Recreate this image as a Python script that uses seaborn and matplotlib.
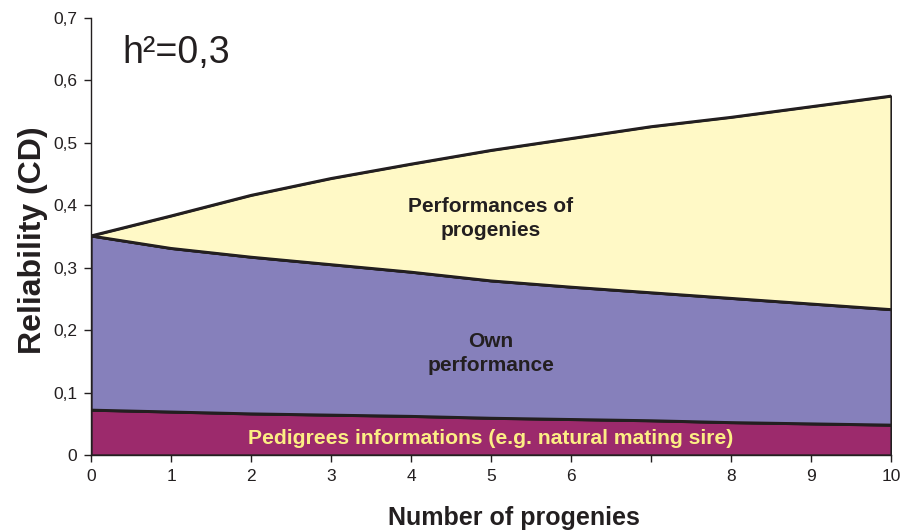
import matplotlib
matplotlib.use("Agg")
import matplotlib.pyplot as plt
import seaborn as sns
import pandas as pd

# ---- data ----
progenies = [0, 1, 2, 3, 4, 5, 6, 7, 8, 9, 10]
pedigree = [0.072, 0.069, 0.066, 0.064, 0.062, 0.059, 0.057, 0.055, 0.052, 0.050, 0.048]
own_perf = [0.279, 0.262, 0.251, 0.241, 0.231, 0.220, 0.212, 0.205, 0.199, 0.192, 0.185]
progeny_perf = [0.000, 0.052, 0.099, 0.138, 0.173, 0.209, 0.238, 0.266, 0.290, 0.316, 0.342]
x_tick_labels = ["0", "1", "2", "3", "4", "5", "6", "", "8", "9", "10"]
y_ticks = [0, 0.1, 0.2, 0.3, 0.4, 0.5, 0.6, 0.7]
y_tick_labels = ["0", "0,1", "0,2", "0,3", "0,4", "0,5", "0,6", "0,7"]

sns.set_theme(style="white")
plt.rcParams["font.family"] = ["Liberation Sans", "DejaVu Sans"]

dark = "#231F20"
c_yellow = "#FFF9C6"
c_purple = "#8680BB"
c_magenta = "#9C2A6C"

df = pd.DataFrame({"x": progenies, "ped": pedigree, "own": own_perf, "prog": progeny_perf})
df["own_top"] = df["ped"] + df["own"]
df["prog_top"] = df["own_top"] + df["prog"]

fig = plt.figure(figsize=(9.01, 5.32), dpi=100)
ax = fig.add_axes([91 / 901, 1 - 455 / 532, 800 / 901, 437 / 532])

ax.stackplot(df["x"], df["ped"], df["own"], df["prog"],
             colors=[c_magenta, c_purple, c_yellow],
             edgecolor=dark, linewidth=1.6)
for col in ["ped", "own_top", "prog_top"]:
    sns.lineplot(data=df, x="x", y=col, ax=ax, color=dark, linewidth=2.0)

ax.set_xlim(0, 10)
ax.set_ylim(0, 0.7)
ax.set_xticks(progenies)
ax.set_xticklabels(x_tick_labels, fontsize=12.5, color=dark)
ax.set_yticks(y_ticks)
ax.set_yticklabels(y_tick_labels, fontsize=12.5, color=dark)
ax.tick_params(axis="both", which="major", direction="out", length=5, width=1,
               color=dark, bottom=True, left=True, pad=5)
for s in ["top", "right"]:
    ax.spines[s].set_visible(False)
for s in ["left", "bottom"]:
    ax.spines[s].set_color(dark)
    ax.spines[s].set_linewidth(1.0)

ax.set_xlabel("Number of progenies", fontsize=18, fontweight="bold", color=dark)
ax.set_ylabel("Reliability (CD)", fontsize=23, fontweight="bold", color=dark)
ax.xaxis.set_label_coords(0.529, -0.117)
ax.yaxis.set_label_coords(-0.054, 0.492)

ax.text(0.039, 0.897, "h²=0,3", transform=ax.transAxes, fontsize=27,
        color=dark, ha="left", va="baseline")
ax.text(5.0, 0.379, "Performances of\nprogenies", fontsize=15, fontweight="bold",
        color=dark, ha="center", va="center", linespacing=1.35)
ax.text(5.0, 0.162, "Own\nperformance", fontsize=15, fontweight="bold",
        color=dark, ha="center", va="center", linespacing=1.35)
ax.text(5.0, 0.027, "Pedigrees informations (e.g. natural mating sire)",
        fontsize=15.2, fontweight="bold", color="#FCEE84",
        ha="center", va="center")

fig.savefig("out.png", dpi=100)
